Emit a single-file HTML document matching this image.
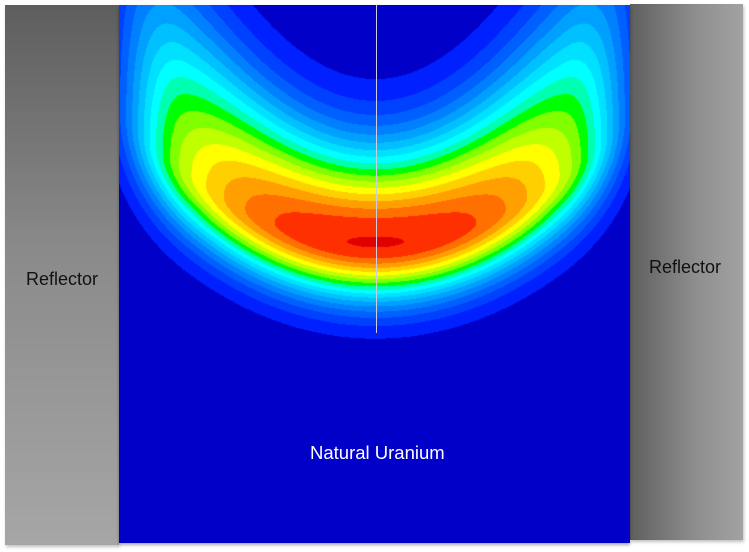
<!DOCTYPE html>
<html><head><meta charset="utf-8">
<style>
html,body{margin:0;padding:0;background:#fff;}
body{width:749px;height:552px;position:relative;overflow:hidden;font-family:"Liberation Sans",sans-serif;}
#refl-l{position:absolute;left:5px;top:5px;width:114px;height:540px;background:linear-gradient(to bottom,#5e5e5e 0%,#8a8a8a 45%,#a6a6a6 100%);box-shadow:1px 2px 3px rgba(0,0,0,0.25);}
#refl-r{position:absolute;left:630px;top:4px;width:113px;height:536px;background:linear-gradient(to right,#5f5f5f 0%,#8f8f8f 60%,#a2a2a2 100%);box-shadow:1px 2px 3px rgba(0,0,0,0.25);}
#core{position:absolute;left:119px;top:5px;width:511px;height:538px;box-shadow:0 2px 3px rgba(0,0,0,0.35);}
.lbl{position:absolute;font-size:18px;}
#axis-line{position:absolute;left:376px;top:5px;width:1px;height:328px;background:#ccd;}
</style></head>
<body>
<div id="refl-l"></div>
<div id="refl-r"></div>
<canvas id="core" width="511" height="538"></canvas>
<div id="axis-line"></div>
<div class="lbl" style="left:26px;top:269px;color:#111;">Reflector</div>
<div class="lbl" style="left:649px;top:257px;color:#111;">Reflector</div>
<div class="lbl" style="left:310px;top:442px;color:#fff;font-size:18.5px;">Natural Uranium</div>
<script>
const levels = [0.05,0.105,0.16,0.215,0.27,0.325,0.38,0.435,0.49,0.545,0.6,0.655,0.71,0.765,0.82,0.875,0.93,0.995];
const bandColors = [[0,0,200],[0,32,255],[0,64,255],[0,96,255],[0,128,255],[0,160,255],[0,192,255],[0,224,255],[0,255,255],[0,255,176],[0,255,0],[128,255,0],[192,255,0],[255,255,0],[255,208,0],[255,160,0],[255,112,0],[255,48,0],[224,0,0]];
const peakX = 375, peakY = 243, halfWidth = 255;
const cv = document.getElementById('core');
const ctx = cv.getContext('2d');
const img = ctx.createImageData(511,538);
for(let py=0;py<538;py++){
  for(let px=0;px<511;px++){
    const x=px+119, y=py+5;
    const u=Math.min(1.05,Math.abs((x-peakX)/halfWidth));
    const yc=peakY-130*u*u;
    const d=y-yc;
    const e=Math.max(0,(u-0.75)/0.25);
    const A=Math.max(0,(1-0.4*u*u-0.3*Math.pow(u,4))*(1-0.45*e*e));
    const s=d<0?95+120*u*u:55+12*u*u;
    const f=A*Math.exp(-(d/s)*(d/s));
    let k=0; while(k<levels.length && f>=levels[k]) k++;
    const c=bandColors[k]; const i=(py*511+px)*4;
    img.data[i]=c[0];img.data[i+1]=c[1];img.data[i+2]=c[2];img.data[i+3]=255;
  }
}
ctx.putImageData(img,0,0);
</script>
</body></html>
